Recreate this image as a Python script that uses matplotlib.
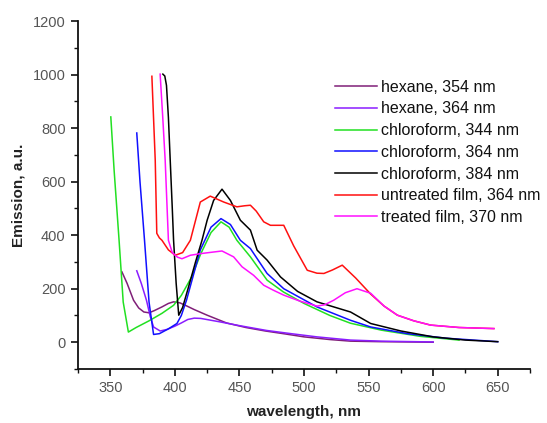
import matplotlib
matplotlib.use("Agg")
import matplotlib.pyplot as plt
from matplotlib.ticker import MultipleLocator

plt.rcParams['font.family'] = ['Liberation Sans', 'DejaVu Sans']

labels = ["hexane, 354 nm", "hexane, 364 nm", "chloroform, 344 nm",
          "chloroform, 364 nm", "chloroform, 384 nm",
          "untreated film, 364 nm", "treated film, 370 nm"]
colors = ["#801f78", "#8a1cff", "#22e022", "#1010ff", "#000000", "#ff1010", "#ff10ff"]

hex354_x = [359, 363, 368, 372, 376, 380, 384, 390, 395, 399, 404, 409, 415, 425, 440, 455, 470, 484, 500, 520, 536, 560, 600]
hex354_y = [263, 220, 157, 128, 113, 110, 118, 132, 145, 151, 147, 136, 122, 101, 72, 55, 42, 32, 20, 10, 4, 2, 0]

hex364_x = [370.5, 374, 378, 381, 383.5, 388.6, 394, 400, 405, 410, 415, 420, 435, 450, 471, 490, 510, 536, 560, 600]
hex364_y = [267, 220, 157, 95, 57, 42, 48, 60, 72, 85, 90, 89, 76, 62, 44, 32, 20, 8, 4, 1]

chl344_x = [350.4, 353, 356.8, 360, 364, 370, 380, 390, 399, 405, 413, 420, 428, 435.7, 442, 448, 458.5, 471.4, 484, 500, 520, 536, 560, 590, 620]
chl344_y = [842, 640, 381, 150, 38, 55, 80, 108, 138, 175, 244, 330, 410, 450, 430, 381, 319, 232, 188, 145, 100, 71, 45, 22, 8]

chl364_x = [370.5, 373, 376.5, 380, 383.5, 388, 395, 401.6, 405, 409, 414, 419.7, 428, 435.7, 443, 450.7, 458.5, 471.4, 484.3, 510, 536, 551.6, 580, 610, 650]
chl364_y = [782, 600, 381, 150, 29, 32, 50, 70, 100, 157, 245, 345, 430, 462, 440, 381, 350, 257, 200, 132, 82, 57, 32, 15, 2]

chl384_x = [390.7, 392.2, 393.5, 395, 396.4, 398, 399, 401, 403, 406, 410.6, 416, 421, 425, 430, 436.5, 443, 450.7, 458.5, 463.7, 471.4, 481.8, 495, 510, 536, 551.6, 575, 600, 625, 650]
chl384_y = [1002, 995, 960, 840, 680, 500, 381, 220, 101, 130, 207, 300, 381, 456, 530, 572, 530, 456, 419, 344, 307, 244, 190, 151, 113, 70, 42, 20, 8, 2]

film_u_x = [382.2, 384.8, 386, 388, 390, 395, 400.3, 406, 412, 419.7, 427.4, 437.8, 448, 454, 458.5, 463, 468.8, 474, 484.3, 492, 502.5, 510, 515.4, 522, 529.6, 540, 551.6, 562, 572.3, 585, 598, 620, 647]
film_u_y = [994, 680, 407, 390, 381, 345, 325, 335, 381, 524, 546, 524, 506, 510, 512, 490, 450, 437, 437, 360, 269, 258, 257, 270, 288, 240, 180, 135, 101, 80, 64, 55, 51]

film_t_x = [388.6, 390.5, 392.5, 394, 395, 398, 402, 405.5, 412, 419.7, 428, 436.5, 445.5, 452, 461, 468.8, 476, 484.3, 496, 510, 516, 523, 532, 541, 551.6, 562, 572.3, 585, 598, 620, 647]
film_t_y = [1002, 850, 680, 500, 381, 335, 318, 312, 325, 331, 336, 341, 319, 282, 250, 213, 195, 176, 155, 135, 140, 157, 185, 200, 183, 135, 101, 80, 64, 55, 51]

series_x = [hex354_x, hex364_x, chl344_x, chl364_x, chl384_x, film_u_x, film_t_x]
series_y = [hex354_y, hex364_y, chl344_y, chl364_y, chl384_y, film_u_y, film_t_y]

fig = plt.figure(figsize=(5.47, 4.23), dpi=100)
ax = fig.add_axes([0.1426, 0.1277, 0.8264, 0.8223])

for xs, ys, c, lab in zip(series_x, series_y, colors, labels):
    ax.plot(xs, ys, color=c, lw=1.1, label=lab)

ax.set_xlim(325, 675)
ax.set_ylim(-100, 1200)
ax.xaxis.set_major_locator(MultipleLocator(50))
ax.xaxis.set_minor_locator(MultipleLocator(25))
ax.yaxis.set_major_locator(MultipleLocator(200))
ax.yaxis.set_minor_locator(MultipleLocator(100))

for s in ['top', 'right']:
    ax.spines[s].set_visible(False)
for s in ['left', 'bottom']:
    ax.spines[s].set_linewidth(1.3)
    ax.spines[s].set_color('#111111')

ax.tick_params(which='major', direction='out', length=5, width=1.2, color='#111111',
               labelsize=10.5, labelcolor='#555555', pad=4)
ax.tick_params(which='minor', direction='out', length=3, width=1.0, color='#111111')

ax.set_xlabel("wavelength, nm", fontsize=11, fontweight='bold', color='#222222', labelpad=7)
ax.set_ylabel("Emission, a.u.", fontsize=11, fontweight='bold', color='#222222', labelpad=5)

leg = ax.legend(loc='upper left', bbox_to_anchor=(0.555, 0.85), frameon=False,
                fontsize=11.5, handlelength=2.6, handletextpad=0.25,
                labelspacing=0.42, borderaxespad=0)
for t in leg.get_texts():
    t.set_color('#111111')

fig.savefig("out.png", dpi=100)
